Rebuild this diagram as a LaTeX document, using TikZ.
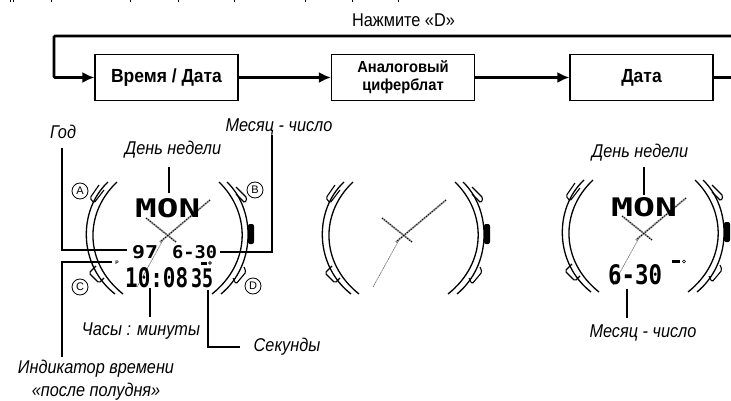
\documentclass[tikz,border=0pt]{standalone}
\usepackage{fontspec}
\usepackage{graphicx}
\setmainfont{Liberation Sans}
\newfontfamily\lblfont[FakeStretch=0.88]{Liberation Sans}
\newfontfamily\boxfont[FakeStretch=0.92]{Liberation Sans}
\newfontfamily\lcdfont{DejaVu Sans Mono}
\usetikzlibrary{arrows.meta}
\tikzset{
  x=1pt,y=-1pt,
  modebox/.style={draw=black,line width=1.1pt,fill=white,minimum width=143pt,minimum height=46pt,inner sep=0pt,align=center,font=\boxfont\bfseries\fontsize{19}{18}\selectfont},
  flow/.style={line width=2.6pt,-{Latex[length=12pt,width=11pt]}},
  flowplain/.style={line width=2.6pt},
  leader/.style={line width=1.1pt},
  lbl/.style={inner sep=0pt,font=\lblfont\itshape\fontsize{18.5}{23}\selectfont,align=center},
  lcd/.style={inner sep=0pt,anchor=north west,font=\lcdfont\bfseries},
  btn/.style={draw=black,circle,line width=.8pt,minimum size=16pt,inner sep=0pt,font=\fontsize{11}{11}\selectfont},
  watchcase/.pic={
    \draw[line width=1.3pt] (-59,-53) .. controls (-89,-25) and (-89,30) .. (-52,59);
    \draw[line width=1.3pt] (-50,-53) .. controls (-83,-22) and (-83,28) .. (-44,59);
    \draw[line width=1.3pt] (60,-53) .. controls (89,-25) and (89,30) .. (54,59);
    \draw[line width=1.3pt] (52,-53) .. controls (84,-22) and (84,28) .. (45,59);
    \draw[line width=1.1pt,rounded corners=1.5pt] (-63,-45) -- (-73,-32) -- (-77,-37) -- (-68,-50);
    \draw[line width=1.1pt,rounded corners=1.5pt] (-71,31) -- (-78,38) -- (-68,48) -- (-63,43);
    \draw[line width=1.1pt,rounded corners=1.5pt] (69,-48) -- (80,-37) -- (78,-32) -- (69,-41);
    \draw[line width=1.1pt,rounded corners=1.5pt] (77,32) -- (79,37) -- (69,49) -- (66,43);
    \fill[rounded corners=2pt] (81,-11) -- (87,-11) -- (87,9) -- (81,9) -- cycle;
    \draw[gray!75,line width=1.8pt] (43,-35) -- (-7,7);
    \draw[gray!75,line width=1.8pt] (-21,-17) -- (9,7);
    \draw[black,line width=.9pt,dash pattern=on 1pt off 1.5pt] (43,-35) -- (-7,7);
    \draw[black,line width=.9pt,dash pattern=on 1pt off 1.5pt] (-21,-17) -- (9,7);
    \draw[gray!70!black,line width=.5pt,dash pattern=on 2pt off .6pt] (-4,5) -- (-30,52);
  }
}
\newcommand{\lcdtext}[6]{\node[lcd] (#1) at (#2,#3) {\resizebox{#4pt}{#5pt}{#6}};}
\begin{document}
\begin{tikzpicture}
\useasboundingbox (0,0) rectangle (731,401);
\clip (0,0) rectangle (731,401);
% cut top line of the page
\foreach \tx in {10,13,51,130,178,234,305,352,398}
  \draw[line width=1pt] (\tx,-1) -- (\tx,2);
% flow
\node[modebox] (b1) at (166.5,77.5) {Время / Дата};
\node[modebox,font=\boxfont\bfseries\fontsize{16}{18}\selectfont] (b2) at (403,77.5) {Аналоговый\\циферблат};
\node[modebox] (b3) at (641.5,77.5) {Дата};
\node[inner sep=0pt,font=\lblfont\fontsize{18.5}{18}\selectfont] (press) at (403.5,20) {Нажмите «D»};
\coordinate (loopR) at (731,36);
\coordinate (loopL) at (54,36);
\coordinate (exit) at (731,77.5);
\draw[flow,rounded corners=1pt] (loopR) -- (loopL) |- (b1.west);
\draw[flow] (b1) -- (b2);
\draw[flow] (b2) -- (b3);
\draw[flowplain] (b3) -- (exit);
% watches
\pic at (167,235) {watchcase};
\pic at (403,235) {watchcase};
\pic at (643,233) {watchcase};
% buttons
\node[btn] (btnA) at (80,191) {A};
\node[btn] (btnB) at (255,190) {B};
\node[btn] (btnC) at (80,287) {C};
\node[btn] (btnD) at (253,286) {D};
% LCD watch 1
\lcdtext{mon}{135}{198}{65}{19}{MON}
\lcdtext{yr}{132}{245}{26}{13}{97}
\lcdtext{md}{172}{245}{45}{13}{6-30}
\lcdtext{hm}{125}{267}{63}{20}{10:08}
\lcdtext{sec}{191}{268}{22}{19}{35}
\node[inner sep=0pt,font=\bfseries\fontsize{5}{5}\selectfont] (pm) at (117,263) {P};
\fill (201,261.5) rectangle (207,264.5);
\draw[line width=.6pt] (210,263) circle (1.4);
% LCD watch 3
\lcdtext{mon3}{611}{197}{66}{19}{MON}
\lcdtext{md3}{608}{264}{54}{20}{6-30}
\fill (672,260) rectangle (680,263);
\draw[line width=.6pt] (684,261.5) circle (1.5);
% labels
\node[lbl] (god) at (63,132) {Год};
\node[lbl] (mes) at (279,127) {Месяц - число};
\node[lbl] (den) at (173,150) {День недели};
\node[lbl] (chas) at (141,331) {Часы : минуты};
\node[lbl] (sek) at (287,347) {Секунды};
\node[lbl] (ind) at (96,380) {Индикатор времени\\«после полудня»};
\node[lbl] (den3) at (640,153) {День недели};
\node[lbl] (mes3) at (643,333) {Месяц - число};
% leaders
\coordinate (godA) at (62,148);
\coordinate (godB) at (127,250);
\draw[leader] (godA) |- (godB);
\coordinate (mesA) at (272,135);
\coordinate (mesB) at (220,252);
\draw[leader] (mesA) |- (mesB);
\coordinate (denA) at (169,167);
\coordinate (denB) at (169,193);
\draw[leader] (denA) -- (denB);
\coordinate (pmA) at (112,262);
\coordinate (pmB) at (62,357);
\draw[leader] (pmA) -| (pmB);
\coordinate (chasA) at (150,288);
\coordinate (chasB) at (150,317);
\draw[leader] (chasA) -- (chasB);
\coordinate (sekA) at (208,290);
\coordinate (sekB) at (240,347);
\draw[leader] (sekA) |- (sekB);
\coordinate (den3A) at (644,167);
\coordinate (den3B) at (644,195);
\draw[leader] (den3A) -- (den3B);
\coordinate (mes3A) at (627,289);
\coordinate (mes3B) at (627,318);
\draw[leader] (mes3A) -- (mes3B);
\end{tikzpicture}
\end{document}
